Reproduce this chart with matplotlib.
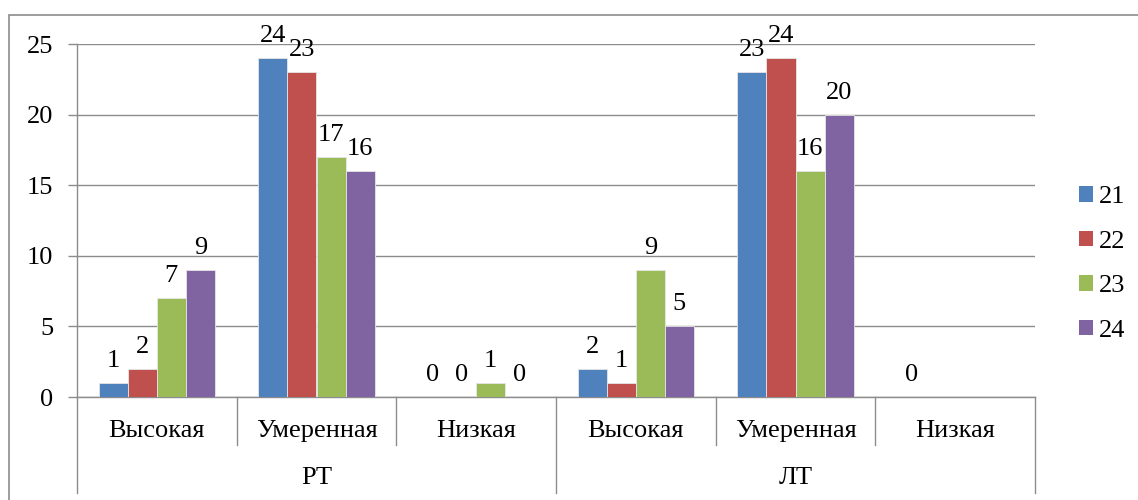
import numpy as np
import matplotlib
matplotlib.use("Agg")
import matplotlib.pyplot as plt
from matplotlib.patches import Rectangle, Patch
from matplotlib.transforms import blended_transform_factory

plt.rcParams['font.family'] = ['Liberation Serif', 'DejaVu Serif']

# Data
groups = ["РТ", "ЛТ"]
levels = ["Высокая", "Умеренная", "Низкая"]
series_names = ["21", "22", "23", "24"]
s21 = [1, 24, 0, 2, 23, 0]
s22 = [2, 23, 0, 1, 24, np.nan]
s23 = [7, 17, 1, 9, 16, np.nan]
s24 = [9, 16, 0, 5, 20, np.nan]
yticks = [0, 5, 10, 15, 20, 25]

colors = ["#4F81BD", "#C0504D", "#9BBB59", "#8064A2"]
grid_col = "#8C8C8C"
FS = 19

W, H = 1138, 500
fig = plt.figure(figsize=(W / 100, H / 100), dpi=100)
ax = fig.add_axes([77 / W, 1 - 397 / H, (1035 - 77) / W, (397 - 44) / H])

# Outer chart frame
fig.patches.append(Rectangle((9 / W, -0.1), 1.2, 1 - 15 / H + 0.1,
                             transform=fig.transFigure, fill=False,
                             edgecolor=grid_col, linewidth=1.2))

n_cat = len(groups) * len(levels)
x = np.arange(n_cat)
bw = 0.182
all_series = [s21, s22, s23, s24]
for i, (vals, c, name) in enumerate(zip(all_series, colors, series_names)):
    xs = x + (i - 1.5) * bw
    v = np.array(vals, dtype=float)
    ax.bar(xs, np.nan_to_num(v), width=bw, color=c, edgecolor="#E6E6E6",
           linewidth=0.6, label=name, zorder=3)
    for xi, vi in zip(xs, v):
        if np.isnan(vi):
            continue
        ax.annotate(f"{int(vi)}", (xi, vi), xytext=(0, 11.5),
                    textcoords="offset points", ha="center", va="baseline",
                    fontsize=FS, zorder=4)

ax.set_xlim(-0.5, n_cat - 0.5)
ax.set_ylim(0, 25)
ax.set_yticks(yticks)
ax.set_yticklabels([str(t) for t in yticks], fontsize=FS)
ax.tick_params(axis="y", length=6.5, width=1.0, color=grid_col, pad=10.5)
ax.yaxis.grid(True, color=grid_col, linewidth=1.0, zorder=0)
ax.set_axisbelow(True)

for s in ["top", "right"]:
    ax.spines[s].set_visible(False)
ax.spines["left"].set_color(grid_col)
ax.spines["bottom"].set_color(grid_col)
ax.spines["left"].set_linewidth(1.0)
ax.spines["bottom"].set_linewidth(1.0)

# Two-level category axis
ax.set_xticks(x)
ax.set_xticklabels(levels * len(groups), fontsize=FS)
ax.tick_params(axis="x", length=0, pad=16.5)

trans = blended_transform_factory(ax.transData, ax.transAxes)
ax_h = 397 - 44
short = -48 / ax_h
long_ = -96 / ax_h
for b in np.arange(-0.5, n_cat, 1.0):
    is_group_edge = (round(b + 0.5) % len(levels)) == 0
    y_end = long_ if is_group_edge else short
    ax.plot([b, b], [0, y_end], transform=trans, color=grid_col,
            linewidth=1.0, clip_on=False)

for gi, g in enumerate(groups):
    cx = gi * len(levels) + (len(levels) - 1) / 2
    ax.text(cx, -(478 - 397) / ax_h, g, transform=trans, ha="center",
            va="center", fontsize=FS)

handles = [Patch(facecolor=c, edgecolor="none") for c in colors]
fig.legend(handles, series_names, loc="center left",
           bbox_to_anchor=(1068 / W, 1 - 264 / H), frameon=False,
           fontsize=FS, handlelength=0.53, handleheight=0.53,
           handletextpad=0.25, labelspacing=0.85, borderaxespad=0)

fig.savefig("out.png", dpi=100)
